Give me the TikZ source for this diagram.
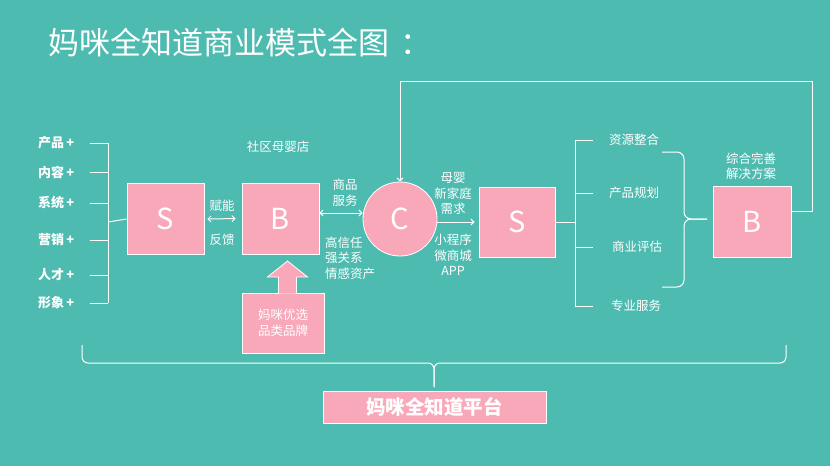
\documentclass[tikz,border=0pt]{standalone}
\usepackage{fontspec}
\setmainfont{Noto Sans CJK SC}
\usepackage{xcolor}
\usetikzlibrary{calc,arrows.meta}
\definecolor{bgteal}{RGB}{77,187,176}
\definecolor{boxpink}{RGB}{249,168,185}
\tikzset{
  letterbox/.style={ % pink square with one big letter
    draw=white, line width=0.8pt, fill=boxpink, text=white,
    minimum width=77pt, minimum height=71pt, inner sep=0pt,
    font=\fontsize{29}{29}\selectfont
  },
  letterdisc/.style={ % the customer circle
    letterbox, circle, minimum size=74pt
  },
  textbox/.style={ % pink box holding text
    draw=white, line width=0.8pt, fill=boxpink, text=white, inner sep=0pt,
    font=\fontsize{12.5}{15.5}\selectfont, align=center
  },
  lbl/.style={
    text=white, inner sep=0pt, font=\fontsize{12.5}{15.5}\selectfont
  },
  sidelbl/.style={
    lbl, anchor=west, font=\fontsize{13}{15.5}\selectfont\bfseries
  },
  wire/.style={
    white, line width=1pt
  },
  tip/.style={
    arrows={-Straight Barb[length=3pt,width=6pt]}
  },
  dtip/.style={
    arrows={Straight Barb[length=3pt,width=6pt]-Straight Barb[length=3pt,width=6pt]}
  }
}

\begin{document}
\begin{tikzpicture}[x=1pt, y=-1pt]

  \fill[bgteal] (0,0) rectangle (830,466);
  \useasboundingbox (0,0) rectangle (830,466);

  \node[lbl, anchor=west, font=\fontsize{31}{31}\selectfont] (title) at (48,43) {妈咪全知道商业模式全图\hspace{0.35em}：};

  % main chain
  \node[letterbox] (S1) at (165.5,219) {S};
  \node[letterbox] (B1) at (280.5,218.5) {B};
  \node[letterdisc] (C) at (400,219) {C};
  \node[letterbox, minimum width=76pt, minimum height=70pt] (S2) at (517,222) {S};
  \node[letterbox, minimum width=78pt] (B2) at (752,221.5) {B};
  \node[textbox, minimum width=82pt, minimum height=60pt] (brand) at (283,323) {妈咪优选\\品类品牌};
  \node[textbox, minimum width=223pt, minimum height=32pt,
        font=\fontsize{19.5}{20}\selectfont\bfseries] (platform) at (434.5,407) {妈咪全知道平台};

  % left bracket
  \coordinate (ltick) at (90,0);
  \coordinate (lspine) at (108,222);
  \foreach \t/\y [count=\i] in {产品/143, 内容/172, 系统/203, 营销/240, 人才/275, 形象/303}{
    \node[sidelbl] (l\i) at (38,\y) {\t\,+};
    \draw[wire] (l\i.east -| ltick) -- (l\i.east -| lspine);
  }
  \draw[wire] (l1.east -| lspine) -- (l6.east -| lspine);
  \draw[wire] (lspine) -- (S1.west);

  % S -- B
  \node[lbl] (fu) at (222,206) {赋能};
  \node[lbl] (fk) at (222,240) {反馈};
  \draw[wire, dtip, shorten <=3pt, shorten >=6pt] (S1.east) -- (B1.west);

  % B -- C
  \node[lbl] (shop) at (278,147) {社区母婴店};
  \node[lbl, align=center] (goods) at (345,192.5) {商品\\服务};
  \node[lbl, align=left, anchor=west] (trust) at (325,258) {高信任\\强关系\\情感资产};
  \coordinate (bc) at ($(B1.east)+(0,-5.5)$);
  \draw[wire, dtip] (bc) -- (bc -| C.west);

  % brand push
  \fill[boxpink] (278.5,293.5) -- (278.5,277) -- (267.5,277) -- (287.5,261)
    -- (307.5,277) -- (296.5,277) -- (296.5,293.5) -- cycle;
  \draw[white, line width=0.8pt, line join=miter] (278.5,293) -- (278.5,277) -- (267.5,277) -- (287.5,261)
    -- (307.5,277) -- (296.5,277) -- (296.5,293);

  % C -- S
  \node[lbl, align=center] (need) at (453,193.5) {母婴\\新家庭\\需求};
  \node[lbl, align=center] (app) at (453,255) {小程序\\微商城\\APP};
  \draw[wire, tip, shorten >=4pt] (C.east |- S2.west) -- (S2.west);

  % right bracket
  \coordinate (rtick) at (593,0);
  \coordinate (rspine) at (575,222);
  \foreach \t/\x/\y [count=\i] in {资源整合/634/140, 产品规划/634/193, 商业评估/637/247, 专业服务/636/306}{
    \node[lbl] (r\i) at (\x,\y) {\t};
    \draw[wire] (r\i.west -| rtick) -- (r\i.west -| rspine);
  }
  \draw[wire] (r1.west -| rspine) -- (r4.west -| rspine);
  \draw[wire] (S2.east) -- (rspine);

  % brace to the solution
  \draw[wire, rounded corners=7pt] (662,152) -- (684,152) -- (684,219) -- (707,219);
  \draw[wire, rounded corners=7pt] (662,287) -- (684,287) -- (684,219) -- (707,219);
  \node[lbl, align=center] (plan) at (751,166) {综合完善\\解决方案};

  % feedback loop
  \coordinate (fb) at (812,81);
  \draw[wire, tip] ($(B2.east)+(0,-10.5)$) -| (fb) -| (C.north);

  % platform brace
  \draw[wire, rounded corners=6pt] (82,345) -- (82,363) -- (434,363) -- (434,387);
  \draw[wire, rounded corners=6pt] (786,345) -- (786,363) -- (434,363) -- (434,387);

\end{tikzpicture}
\end{document}
